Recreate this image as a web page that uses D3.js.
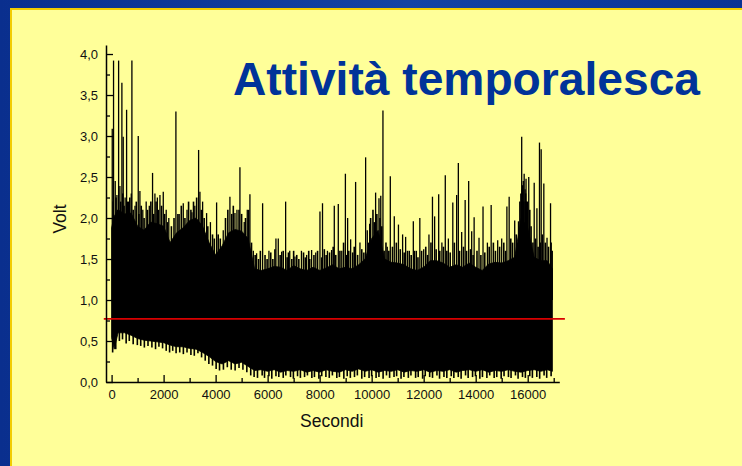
<!DOCTYPE html>
<html>
<head>
<meta charset="utf-8">
<script src="https://cdn.jsdelivr.net/npm/d3@7"></script>
<style>
  html, body { margin: 0; padding: 0; background: #ffff99; }
  svg { display: block; }
  text { font-family: "Liberation Sans", Arial, sans-serif; }
</style>
</head>
<body>
<svg id="chart" width="742" height="466"></svg>
<script>
// ---------------- data ----------------
const titleText = "Attività temporalesca";
const xLabel = "Secondi";
const yLabel = "Volt";

// solid core of the dense signal (seconds, volt)
const envTime  = [0, 100, 250, 500, 750, 1000, 1250, 1500, 1750, 2000, 2250, 2500, 2750, 3000, 3250, 3500, 3750, 4000, 4250, 4500, 4750, 5000, 5250, 5500, 5750, 6000, 6250, 6500, 6750, 7000, 7250, 7500, 7750, 8000, 8250, 8500, 8750, 9000, 9250, 9500, 9750, 10000, 10250, 10500, 10750, 11000, 11250, 11500, 11750, 12000, 12250, 12500, 12750, 13000, 13250, 13500, 13750, 14000, 14250, 14500, 14750, 15000, 15250, 15500, 15750, 16000, 16250, 16500, 16750, 16950];
const envUpper = [1.88, 2.02, 2.10, 2.05, 2.06, 1.90, 1.85, 1.95, 1.93, 1.90, 1.70, 1.82, 1.88, 1.97, 2.00, 1.90, 1.70, 1.55, 1.66, 1.82, 1.86, 1.84, 1.75, 1.38, 1.36, 1.38, 1.41, 1.40, 1.36, 1.42, 1.38, 1.36, 1.40, 1.36, 1.39, 1.43, 1.38, 1.40, 1.38, 1.43, 1.50, 1.75, 1.85, 1.50, 1.46, 1.45, 1.43, 1.38, 1.36, 1.40, 1.48, 1.48, 1.45, 1.40, 1.43, 1.40, 1.45, 1.40, 1.36, 1.44, 1.46, 1.45, 1.48, 1.52, 2.00, 1.88, 1.52, 1.48, 1.48, 1.38];
const envLower = [0.54, 0.40, 0.60, 0.60, 0.57, 0.53, 0.51, 0.50, 0.49, 0.48, 0.45, 0.43, 0.43, 0.41, 0.40, 0.36, 0.31, 0.25, 0.22, 0.26, 0.22, 0.24, 0.19, 0.14, 0.15, 0.13, 0.15, 0.12, 0.14, 0.13, 0.15, 0.12, 0.14, 0.12, 0.15, 0.13, 0.12, 0.15, 0.13, 0.16, 0.13, 0.15, 0.12, 0.14, 0.13, 0.15, 0.12, 0.14, 0.13, 0.15, 0.12, 0.14, 0.13, 0.15, 0.12, 0.14, 0.15, 0.13, 0.15, 0.12, 0.14, 0.13, 0.15, 0.13, 0.12, 0.14, 0.15, 0.13, 0.15, 0.13];

// tall individual peaks (seconds, volt)
const spikeTime = [25, 75, 140, 205, 270, 320, 396, 447, 520, 577, 650, 756, 781, 900, 1025, 1089, 1200, 1330, 1450, 1575, 1666, 1760, 1859, 1987, 2100, 2200, 2473, 2600, 2756, 2900, 3090, 3200, 3346, 3397, 3500, 3653, 3800,
  4038, 4293, 4550, 4743, 4820, 4935, 5100, 5217, 5319, 5450, 5576, 5807, 6050, 6319, 6409, 6538, 6692, 6850, 7050, 7300, 7500, 7691, 7850, 8012, 8110, 8300, 8460, 8563, 8717, 8850, 8990, 9076, 9192, 9383, 9550, 9768, 9832, 9922,
  10152, 10281, 10350, 10434, 10600, 10717, 10870, 11030, 11190, 11306, 11450, 11602, 11720, 11852, 12000, 12203, 12338, 12421, 12577, 12700, 12831, 12950, 13120, 13268, 13333, 13461, 13595, 13730, 13846, 13940,
  14128, 14282, 14450, 14595, 14846, 15000, 15200, 15287, 15500, 15645, 15769, 15800, 15830, 15864, 15900, 15936, 15960, 16040, 16250, 16354, 16453, 16518, 16620, 16743, 16878];
const spikeVolt = [3.09, 3.92, 2.45, 2.28, 3.92, 2.39, 3.65, 2.99, 2.25, 3.32, 2.20, 2.30, 3.92, 2.15, 3.00, 2.33, 2.10, 2.20, 2.15, 2.55, 2.30, 2.25, 2.28, 2.32, 2.10, 2.00, 3.30, 2.05, 2.18, 2.10, 2.07, 2.15, 2.83, 2.32, 2.20, 2.06, 1.95,
  2.19, 1.85, 2.26, 2.06, 2.10, 2.62, 1.95, 2.10, 2.29, 1.60, 1.57, 2.18, 1.60, 1.75, 1.75, 1.59, 2.20, 1.60, 1.53, 1.60, 1.55, 1.61, 1.58, 2.08, 2.18, 1.60, 1.61, 2.15, 2.17, 1.60, 2.54, 2.00, 1.74, 2.44, 1.70, 2.74, 1.85, 1.93,
  2.31, 2.24, 2.27, 3.31, 1.65, 2.51, 2.02, 1.92, 1.80, 1.77, 1.60, 1.96, 1.60, 2.00, 1.62, 1.80, 2.26, 2.02, 2.29, 1.70, 2.52, 1.75, 2.19, 2.28, 2.67, 1.83, 2.22, 2.45, 1.84, 2.01,
  1.76, 2.14, 1.70, 2.16, 1.73, 1.75, 2.14, 2.26, 1.97, 1.96, 2.99, 2.40, 2.45, 2.54, 2.35, 2.48, 2.20, 2.50, 2.43, 2.12, 2.92, 2.84, 2.42, 1.76, 2.18];

// short peaks that make the ragged top of the band (seconds, volt)
const minorPeakTime = [60, 170, 230, 350, 430, 480, 610, 700, 830, 950, 1050, 1140, 1250, 1380, 1510, 1620, 1710, 1800, 1920, 2040, 2150, 2300, 2400, 2550, 2680, 2820, 2960, 3050, 3150, 3270, 3450, 3560, 3700, 3880, 3950,
  4100, 4180, 4380, 4470, 4620, 4680, 4900, 5000, 5150, 5270, 5380,
  5520, 5650, 5720, 5900, 5980, 6120, 6200, 6280, 6480, 6600, 6750, 6800, 6930, 7000, 7120, 7200, 7380, 7450, 7580, 7620, 7780, 7920, 8080, 8180, 8250, 8380, 8520, 8620, 8780, 8920, 9040, 9120, 9270, 9330, 9460, 9620, 9700, 9880,
  9960, 10050, 10100, 10200, 10320, 10390,
  10480, 10550, 10660, 10800, 10950, 11100, 11250, 11380, 11520, 11650, 11780, 11920, 12080, 12150, 12280, 12480, 12620, 12760, 12890, 13020, 13180, 13380, 13530, 13650, 13800, 13900, 14050, 14200, 14350, 14520, 14680, 14760, 14920, 15080, 15150, 15350, 15420, 15560,
  15700, 15740, 15790, 15850, 15920, 15990, 16080, 16130,
  16200, 16300, 16400, 16480, 16560, 16680, 16800, 16900, 16940];
const minorPeakVolt = [2.20, 2.25, 2.10, 2.20, 2.30, 2.15, 2.20, 2.25, 2.10, 2.20, 2.05, 2.15, 2.00, 2.10, 2.20, 2.05, 2.20, 2.10, 2.15, 2.05, 1.95, 1.90, 2.00, 2.05, 2.15, 2.00, 2.20, 2.10, 2.20, 2.25, 2.10, 2.00, 1.90, 1.80, 1.75,
  1.80, 1.75, 2.00, 2.10, 2.05, 2.15, 2.10, 2.05, 2.00, 2.10, 1.70,
  1.55, 1.50, 1.60, 1.55, 1.50, 1.58, 1.50, 1.62, 1.55, 1.60, 1.52, 1.58, 1.50, 1.60, 1.55, 1.50, 1.58, 1.52, 1.60, 1.50, 1.55, 1.60, 1.52, 1.62, 1.55, 1.58, 1.65, 1.55, 1.60, 1.70, 1.55, 1.60, 1.58, 1.65, 1.55, 1.62, 1.58, 1.70,
  2.00, 2.10, 1.95, 2.05, 2.00, 1.90,
  1.60, 1.70, 1.60, 1.65, 1.70, 1.62, 1.58, 1.60, 1.55, 1.60, 1.52, 1.60, 1.65, 1.55, 1.70, 1.62, 1.60, 1.65, 1.60, 1.58, 1.70, 1.60, 1.65, 1.60, 1.62, 1.55, 1.60, 1.55, 1.58, 1.65, 1.70, 1.60, 1.65, 1.70, 1.60, 1.75, 1.70, 1.80,
  2.20, 2.30, 2.35, 2.20, 2.30, 2.20, 2.10, 1.90,
  1.70, 1.75, 1.65, 1.70, 1.80, 1.70, 1.65, 1.70, 1.60];

// short dips that make the ragged bottom of the band (seconds, volt)
const dipTime = [40, 160, 300, 420, 560, 680, 830, 990, 1120, 1260, 1400, 1550, 1690, 1820, 1960, 2100, 2230, 2350, 2480, 2620, 2760, 2900, 3050, 3180, 3320, 3460, 3600, 3740, 3880, 4020, 4150, 4300, 4450, 4600, 4750, 4900, 5050, 5200, 5350,
  5480, 5610, 5790, 5880, 6050, 6160, 6320, 6430, 6600, 6700, 6880, 6990, 7150, 7260, 7420, 7530, 7700, 7800, 7970, 8080, 8240, 8370, 8490, 8660, 8760, 8930, 9060, 9180, 9340, 9450, 9620, 9730, 9900, 10000, 10170, 10280, 10440, 10570, 10690, 10860, 10960, 11130, 11240, 11410, 11510, 11690, 11790, 11960, 12060, 12230, 12340, 12510, 12610, 12780, 12890, 13060, 13160, 13330, 13440, 13610, 13710, 13880, 13990, 14160, 14260, 14430, 14540, 14710, 14810, 14980, 15090, 15260, 15360, 15530, 15630, 15800, 15910, 16080, 16180, 16350, 16460, 16630, 16730, 16900];
const dipVolt = [0.36, 0.40, 0.50, 0.52, 0.47, 0.50, 0.46, 0.45, 0.44, 0.42, 0.44, 0.42, 0.40, 0.43, 0.41, 0.38, 0.36, 0.38, 0.35, 0.36, 0.34, 0.36, 0.33, 0.32, 0.35, 0.30, 0.26, 0.22, 0.20, 0.16, 0.14, 0.15, 0.18, 0.15, 0.14, 0.17, 0.15, 0.12, 0.08,
  0.06, 0.05, 0.08, 0.05, 0.07, 0.04, 0.07, 0.06, 0.05, 0.08, 0.06, 0.04, 0.07, 0.05, 0.06, 0.08, 0.05, 0.06, 0.04, 0.07, 0.06, 0.05, 0.08, 0.05, 0.06, 0.04, 0.07, 0.05, 0.06, 0.08, 0.04, 0.06, 0.05, 0.07, 0.05, 0.06, 0.04, 0.08, 0.05, 0.06, 0.07, 0.04, 0.06, 0.05, 0.08, 0.05, 0.06, 0.04, 0.07, 0.06, 0.05, 0.08, 0.04, 0.06, 0.05, 0.07, 0.05, 0.06, 0.04, 0.08, 0.05, 0.06, 0.07, 0.04, 0.06, 0.05, 0.08, 0.05, 0.06, 0.04, 0.07, 0.06, 0.05, 0.08, 0.04, 0.06, 0.05, 0.07, 0.05, 0.06, 0.04, 0.08, 0.05, 0.07];

const thresholdVolt = 0.77;
const thresholdSpan = [-300, 17430];

const xDomain = [-215, 17215];
const yDomain = [0, 4.11];
const xTicks = [0, 2000, 4000, 6000, 8000, 10000, 12000, 14000, 16000];
const xMinorTicks = [1000, 3000, 5000, 7000, 9000, 11000, 13000, 15000, 17000];
const yTicks = [0, 0.5, 1.0, 1.5, 2.0, 2.5, 3.0, 3.5, 4.0];
const yMinorTicks = [0.25, 0.75, 1.25, 1.75, 2.25, 2.75, 3.25, 3.75];

// ---------------- drawing ----------------
const svg = d3.select("#chart");
const W = 742, H = 466;

// pair two lists, keeping only complete pairs
const pairs = (ts, vs) => d3.range(Math.min(ts.length, vs.length)).map(i => ({ t: ts[i], v: vs[i] }));

// slide background
const defs = svg.append("defs");
const grad = defs.append("linearGradient").attr("id", "blueGrad")
  .attr("x1", "0%").attr("y1", "0%").attr("x2", "100%").attr("y2", "0%");
grad.append("stop").attr("offset", "0%").attr("stop-color", "#0a2f8e");
grad.append("stop").attr("offset", "55%").attr("stop-color", "#1443a3");
grad.append("stop").attr("offset", "80%").attr("stop-color", "#0e3a9c");
grad.append("stop").attr("offset", "100%").attr("stop-color", "#0a3394");

svg.append("rect").attr("x", 0).attr("y", 0).attr("width", W).attr("height", H).attr("fill", "url(#blueGrad)");
svg.append("rect").attr("x", 10).attr("y", 8).attr("width", W - 10).attr("height", H - 8).attr("fill", "#f2cc00");
svg.append("rect").attr("x", 12).attr("y", 10).attr("width", W - 12).attr("height", H - 10).attr("fill", "#ffff99");

// title
svg.append("text")
  .attr("x", 233).attr("y", 95)
  .attr("font-size", 46).attr("font-weight", "bold")
  .attr("fill", "#003399")
  .attr("textLength", 467).attr("lengthAdjust", "spacingAndGlyphs")
  .text(titleText);

// scales
const x = d3.scaleLinear().domain(xDomain).range([106, 559.3]);
const y = d3.scaleLinear().domain(yDomain).range([382, 45]);

const plot = svg.append("g");

// dense band core
const env = envTime.map((t, i) => ({ t, hi: envUpper[i], lo: envLower[i] }));
plot.append("path")
  .datum(env)
  .attr("fill", "#000")
  .attr("stroke", "#000")
  .attr("stroke-width", 0.8)
  .attr("d", d3.area().x(d => x(d.t)).y0(d => y(d.lo)).y1(d => y(d.hi)));

// ragged bottom
plot.selectAll("line.dip")
  .data(pairs(dipTime, dipVolt))
  .join("line")
  .attr("class", "dip")
  .attr("x1", d => x(d.t)).attr("x2", d => x(d.t))
  .attr("y1", y(1.0)).attr("y2", d => y(d.v))
  .attr("stroke", "#000").attr("stroke-width", 1.6);

// ragged top
plot.selectAll("line.minor")
  .data(pairs(minorPeakTime, minorPeakVolt))
  .join("line")
  .attr("class", "minor")
  .attr("x1", d => x(d.t)).attr("x2", d => x(d.t))
  .attr("y1", y(1.0)).attr("y2", d => y(d.v))
  .attr("stroke", "#000").attr("stroke-width", 1.6);

// tall peaks
plot.selectAll("line.spike")
  .data(pairs(spikeTime, spikeVolt))
  .join("line")
  .attr("class", "spike")
  .attr("x1", d => x(d.t)).attr("x2", d => x(d.t))
  .attr("y1", y(1.0)).attr("y2", d => y(d.v))
  .attr("stroke", "#000").attr("stroke-width", 1.3);

// threshold line
svg.append("line")
  .attr("x1", x(thresholdSpan[0])).attr("x2", x(thresholdSpan[1]))
  .attr("y1", y(thresholdVolt)).attr("y2", y(thresholdVolt))
  .attr("stroke", "#d80000").attr("stroke-width", 1.6);

// axes
const fmt = d3.format(".1f");
const comma = v => fmt(v).replace(".", ",");

svg.append("g").attr("transform", `translate(0,${y(0)})`)
  .call(d3.axisBottom(x).tickValues(xTicks).tickSizeInner(-7).tickSizeOuter(0).tickPadding(7.5).tickFormat(d3.format("d")));
const gxm = svg.append("g").attr("transform", `translate(0,${y(0)})`)
  .call(d3.axisBottom(x).tickValues(xMinorTicks).tickSizeInner(-4).tickSizeOuter(0).tickFormat(() => ""));
gxm.select(".domain").remove();

svg.append("g").attr("transform", `translate(${x(xDomain[0])},0)`)
  .call(d3.axisLeft(y).tickValues(yTicks).tickSizeInner(-7).tickSizeOuter(0).tickPadding(8).tickFormat(comma));
const gym = svg.append("g").attr("transform", `translate(${x(xDomain[0])},0)`)
  .call(d3.axisLeft(y).tickValues(yMinorTicks).tickSizeInner(-4).tickSizeOuter(0).tickFormat(() => ""));
gym.select(".domain").remove();

svg.selectAll(".domain").attr("stroke", "#000").attr("stroke-width", 1.5);
svg.selectAll(".tick line").attr("stroke", "#000").attr("stroke-width", 1.3);
svg.selectAll(".tick text").attr("font-size", 13).attr("fill", "#111")
  .attr("font-family", "'Liberation Sans', Arial, sans-serif");

// axis titles
svg.append("text")
  .attr("x", 331.7).attr("y", 426.5)
  .attr("text-anchor", "middle")
  .attr("font-size", 17.5).attr("fill", "#111")
  .text(xLabel);

svg.append("text")
  .attr("transform", `translate(66,219) rotate(-90)`)
  .attr("text-anchor", "middle")
  .attr("font-size", 17.5).attr("fill", "#111")
  .text(yLabel);
</script>
</body>
</html>
